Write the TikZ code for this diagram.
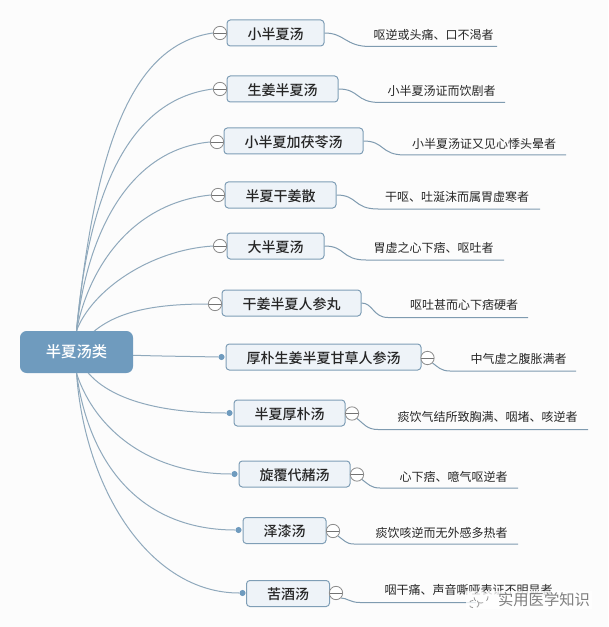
\documentclass[tikz,border=0pt]{standalone}
\usepackage{fontspec}
\setmainfont{Noto Sans CJK SC}
\newfontfamily\boldcjk{Noto Sans CJK SC Medium}
\usetikzlibrary{backgrounds}
\definecolor{rootblue}{HTML}{6F9BBE}
\definecolor{edgeblue}{HTML}{8FA9BC}
\definecolor{boxline}{HTML}{7F9EB6}
\definecolor{boxfill}{HTML}{EEF3F8}
\definecolor{leafline}{HTML}{7F9BB0}
\tikzset{
  x=0.75pt,y=-0.75pt,
  rootbox/.style={draw=none,fill=rootblue,rounded corners=5pt,minimum width=84.75pt,minimum height=31.5pt,inner sep=0pt,text=white,font=\boldcjk\fontsize{11.5}{13}\selectfont},
  topic/.style={draw=boxline,fill=boxfill,line width=0.75pt,rounded corners=2.5pt,minimum height=19.5pt,inner sep=0pt,text height=9.5pt,text depth=0pt,font=\boldcjk\fontsize{10.5}{12}\selectfont,text=black!85},
  leaftext/.style={inner sep=0pt,font=\fontsize{9}{11}\selectfont,text=black!85},
  collapse/.style={circle,draw=black!45,fill=white,line width=0.6pt,minimum size=10pt,inner sep=0pt,path picture={\draw[black!55,line width=0.6pt] (path picture bounding box.west)--(path picture bounding box.east);}},
  dotmark/.style={circle,fill=rootblue,minimum size=4.6pt,inner sep=0pt},
  conn/.style={draw=edgeblue,line width=0.75pt},
  leafconn/.style={draw=leafline,line width=0.75pt},
  mark text/.style={font=\fontsize{11.5}{13}\selectfont}
}
\begin{document}
\begin{tikzpicture}
\useasboundingbox (0,0) rectangle (608,627);
\node[rootbox] (root) at (76.5,352) {半夏汤类};
% topics
\node[topic,minimum width=72.75pt]  (b1)  at (275.5,33)  {小半夏汤};
\node[topic,minimum width=83.25pt]  (b2)  at (282.5,89)  {生姜半夏汤};
\node[topic,minimum width=104.25pt] (b3)  at (293.5,141) {小半夏加茯苓汤};
\node[topic,minimum width=83.25pt]  (b4)  at (280.5,195) {半夏干姜散};
\node[topic,minimum width=72.75pt]  (b5)  at (275.5,246) {大半夏汤};
\node[topic,minimum width=104.25pt] (b6)  at (291.5,303) {干姜半夏人参丸};
\node[topic,minimum width=146.25pt] (b7)  at (323.5,357) {厚朴生姜半夏甘草人参汤};
\node[topic,minimum width=83.25pt]  (b8)  at (289.5,413) {半夏厚朴汤};
\node[topic,minimum width=83.25pt]  (b9)  at (294.5,474) {旋覆代赭汤};
\node[topic,minimum width=62.25pt]  (b10) at (284.5,530.5) {泽漆汤};
\node[topic,minimum width=62.25pt]  (b11) at (288,593.5) {苦酒汤};
% collapse marks and dots
\node[collapse] (c1) at (220,33) {};
\node[collapse] (c2) at (220,89) {};
\node[collapse] (c3) at (217,142) {};
\node[collapse] (c4) at (218,195) {};
\node[collapse] (c5) at (220,246) {};
\node[collapse] (c6) at (215,304) {};
\node[dotmark]  (d7) at (221.5,357) {};
\node[collapse] (c7) at (427.5,358) {};
\node[dotmark]  (d8) at (229.5,413) {};
\node[collapse] (c8) at (352,413.5) {};
\node[dotmark]  (d9) at (234.5,474) {};
\node[collapse] (c9) at (357,474.5) {};
\node[dotmark]  (d10) at (238.5,530) {};
\node[collapse] (c10) at (333,531) {};
\node[dotmark]  (d11) at (242.5,593) {};
\node[collapse] (c11) at (336,593) {};
% leaf texts
\node[leaftext] (t1)  at (433.5,35)  {呕逆或头痛、口不渴者};
\node[leaftext] (t2)  at (441.5,91)  {小半夏汤证而饮剧者};
\node[leaftext] (t3)  at (484,144) {小半夏汤证又见心悸头晕者};
\node[leaftext] (t4)  at (457,197) {干呕、吐涎沫而属胃虚寒者};
\node[leaftext] (t5)  at (433.5,248) {胃虚之心下痞、呕吐者};
\node[leaftext] (t6)  at (464,305) {呕吐甚而心下痞硬者};
\node[leaftext] (t7)  at (518.5,359) {中气虚之腹胀满者};
\node[leaftext] (t8)  at (487.5,417) {痰饮气结所致胸满、咽堵、咳逆者};
\node[leaftext] (t9)  at (453.5,477) {心下痞、噫气呕逆者};
\node[leaftext] (t10) at (441.5,533) {痰饮咳逆而无外感多热者};
\node[leaftext] (t11) at (468.5,590) {咽干痛、声音嘶哑表证不明显者};
% leaf underline ends
\coordinate (s1) at (370,46.5);  \coordinate (e1) at (497,46.5);
\coordinate (s2) at (380,102.5); \coordinate (e2) at (505,102.5);
\coordinate (s3) at (405,155);   \coordinate (e3) at (566,155);
\coordinate (s4) at (378,209);   \coordinate (e4) at (540,209);
\coordinate (s5) at (366,260);   \coordinate (e5) at (504,260);
\coordinate (s6) at (388,317.5); \coordinate (e6) at (528,317.5);
\coordinate (s7) at (450,371);   \coordinate (e7) at (576,371);
\coordinate (s8) at (378,429.5); \coordinate (e8) at (588,429.5);
\coordinate (s9) at (380,488);   \coordinate (e9) at (518,488);
\coordinate (s10) at (354,544);  \coordinate (e10) at (518,544);
\coordinate (s11) at (360,602.5);\coordinate (e11) at (476,602.5);
\begin{scope}[on background layer]
\fill[white!99!black] (0,0) rectangle (608,627);
\draw[conn] (root.north) .. controls (95,150) and (130,45) .. (c1.west);
\draw[conn] (root.north) .. controls (88,200) and (125,100) .. (c2.west);
\draw[conn] (root.north) .. controls (86,240) and (125,150) .. (c3.west);
\draw[conn] (root.north) .. controls (88,270) and (130,203) .. (c4.west);
\draw[conn] (root.north) .. controls (92,290) and (150,250) .. (c5.west);
\draw[conn] (root.center) .. controls (100,312) and (150,304) .. (c6.west);
\draw[conn] (root.center) .. controls (120,356) and (170,356) .. (d7.west);
\draw[conn] (root.center) .. controls (90,395) and (150,413) .. (d8.west);
\draw[conn] (root.south) .. controls (95,430) and (150,474) .. (d9.west);
\draw[conn] (root.south) .. controls (90,470) and (145,530) .. (d10.west);
\draw[conn] (root.south) .. controls (85,490) and (150,593) .. (d11.west);
\draw[leafconn] (b1.east) .. controls (345,33) and (345,46.5) .. (s1) -- (e1);
\draw[leafconn] (b2.east) .. controls (360,89) and (355,102.5) .. (s2) -- (e2);
\draw[leafconn] (b3.east) .. controls (385,141) and (380,155) .. (s3) -- (e3);
\draw[leafconn] (b4.east) .. controls (358,195) and (353,209) .. (s4) -- (e4);
\draw[leafconn] (b5.east) .. controls (346,246) and (341,260) .. (s5) -- (e5);
\draw[leafconn] (b6.east) .. controls (373,303) and (373,317.5) .. (s6) -- (e6);
\draw[leafconn] (c7.south east) .. controls (438,367) and (441,371) .. (s7) -- (e7);
\draw[leafconn] (c8.south east) .. controls (364,424) and (367,429.5) .. (s8) -- (e8);
\draw[leafconn] (c9.south east) .. controls (368,484) and (371,488) .. (s9) -- (e9);
\draw[leafconn] (c10.south east) .. controls (344,540) and (346,544) .. (s10) -- (e10);
\draw[leafconn] (c11.south east) .. controls (347,598) and (350,602.5) .. (s11) -- (e11);
\end{scope}
% watermark
\fill[white,opacity=0.8] (466,591) rectangle (592,609);
\node[mark text,text=black!50] (wm) at (544,600) {实用医学知识};
\draw[black!40,line width=0.6pt,dashed] (481,597) ellipse (7 and 6);
\draw[black!40,line width=0.6pt,dashed] (474,604) ellipse (5 and 4);
\end{tikzpicture}
\end{document}
